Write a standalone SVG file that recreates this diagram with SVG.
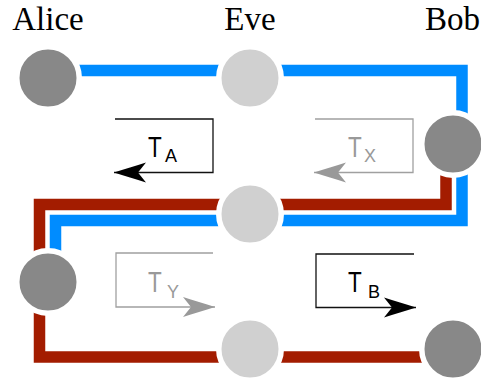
<svg xmlns="http://www.w3.org/2000/svg" width="481" height="382" viewBox="0 0 481 382">
<style>
.name{font-family:"Liberation Serif","DejaVu Serif",serif;font-size:33px;fill:#000}
.big{font-family:"Liberation Sans",Arial,sans-serif;font-size:30px}
.sub{font-family:"Liberation Sans",Arial,sans-serif;font-size:18px}
.dark{fill:#888888;stroke:#fff;stroke-width:5.5}
.light{fill:#d0d0d0;stroke:#fff;stroke-width:5.5}
.blue{fill:none;stroke:#008cff;stroke-width:11.5}
.red{fill:none;stroke:#a31c00;stroke-width:11.5}
.bk{fill:none;stroke:#111;stroke-width:1.3}
.gy{fill:none;stroke:#a0a0a0;stroke-width:1.3}
.tb{fill:#000}
.tg{fill:#999}
</style>
<defs>
<marker id="ahb" viewBox="-33 -11 34 22" refX="0" refY="0" markerWidth="34" markerHeight="22" markerUnits="userSpaceOnUse" orient="auto">
<path d="M0,0 C-10,-3 -22,-7 -32,-10 L-24,0 L-32,10 C-22,7 -10,3 0,0Z" fill="#000"/>
</marker>
<marker id="ahg" viewBox="-33 -11 34 22" refX="0" refY="0" markerWidth="34" markerHeight="22" markerUnits="userSpaceOnUse" orient="auto">
<path d="M0,0 C-10,-3 -22,-7 -32,-10 L-24,0 L-32,10 C-22,7 -10,3 0,0Z" fill="#999"/>
</marker>
</defs>
<g id="connectors">
<path class="blue" d="M48,70.5 H462 V220.5 H55.5 V282"/>
<path class="red" d="M446,144 V204.5 H39.5 V357 H453"/>
</g>
<g id="alice"><text class="name" x="48" y="30" text-anchor="middle">Alice</text><circle class="dark" cx="48" cy="78" r="31.25"/></g>
<g id="eve"><text class="name" x="250" y="30" text-anchor="middle">Eve</text><circle class="light" cx="250" cy="78" r="31.25"/></g>
<g id="bob"><text class="name" x="425" y="30">Bob</text><circle class="dark" cx="453" cy="144" r="31.25"/></g>
<g id="eve-mid"><circle class="light" cx="250" cy="214" r="31.25"/></g>
<g id="alice-low"><circle class="dark" cx="48" cy="282" r="31.25"/></g>
<g id="eve-low"><circle class="light" cx="250" cy="349" r="31.25"/></g>
<g id="bob-low"><circle class="dark" cx="453" cy="349" r="31.25"/></g>
<g id="ta">
<path class="bk" d="M115,119 H213 V172.5 H114" marker-end="url(#ahb)"/>
<text class="big tb" transform="translate(148,157) scale(0.75,1)">T</text>
<text class="sub tb" x="165" y="162">A</text>
</g>
<g id="tx">
<path class="gy" d="M315,119 H413 V172.5 H314" marker-end="url(#ahg)"/>
<text class="big tg" transform="translate(348,157) scale(0.75,1)">T</text>
<text class="sub tg" x="364" y="162">X</text>
</g>
<g id="ty">
<path class="gy" d="M213,253 H116 V307 H215" marker-end="url(#ahg)"/>
<text class="big tg" transform="translate(148,292) scale(0.75,1)">T</text>
<text class="sub tg" x="167" y="298">Y</text>
</g>
<g id="tb">
<path class="bk" d="M414,254 H316 V307.5 H416" marker-end="url(#ahb)"/>
<text class="big tb" transform="translate(348,292) scale(0.75,1)">T</text>
<text class="sub tb" x="368" y="298">B</text>
</g>
</svg>
